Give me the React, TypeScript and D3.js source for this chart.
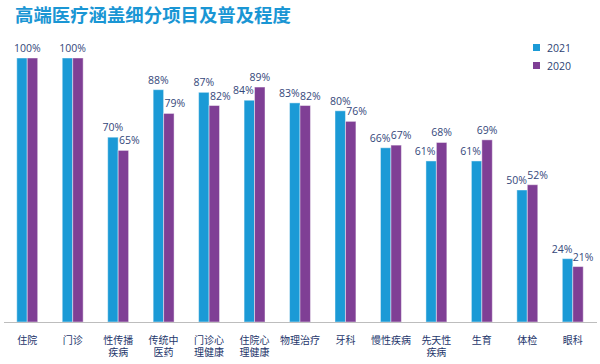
import React from 'react';
import * as d3 from 'd3';

const categories = ['住院', '门诊', '性传播疾病', '传统中医药', '门诊心理健康', '住院心理健康', '物理治疗', '牙科', '慢性疾病', '先天性疾病', '生育', '体检', '眼科'];
const categoryLines = [['住院'], ['门诊'], ['性传播', '疾病'], ['传统中', '医药'], ['门诊心', '理健康'], ['住院心', '理健康'], ['物理治疗'], ['牙科'], ['慢性疾病'], ['先天性', '疾病'], ['生育'], ['体检'], ['眼科']];
const values2021 = [100, 100, 70, 88, 87, 84, 83, 80, 66, 61, 61, 50, 24];
const values2020 = [100, 100, 65, 79, 82, 89, 82, 76, 67, 68, 69, 52, 21];
const seriesNames = ['2021', '2020'];
const colors = ['#1b9ad6', '#7f3f95'];

const W = 600;
const H = 364;
const baseY = 322;
const topY = 58;

const App: React.FC = () => {
  const x0 = d3.scaleBand<string>()
    .domain(categories)
    .range([4.5, 595.5])
    .paddingInner(0.54)
    .paddingOuter(0.27);

  const x1 = d3.scaleBand<string>()
    .domain(seriesNames)
    .range([0, x0.bandwidth()]);

  const y = d3.scaleLinear().domain([0, 100]).range([baseY, topY]);

  const numFont = '"Open Sans", "Noto Sans", sans-serif';
  const cjkFont = '"Noto Sans CJK SC", sans-serif';

  // push the value labels apart when the two bars are close in height
  const labelShift = (a: number, b: number): [number, number] => {
    if (a === b) return [0, 0];
    if (Math.abs(a - b) <= 3) return [-5.5, 5];
    if (Math.abs(a - b) < 10) return a < b ? [-6, 0] : [0, 6];
    return [0, 0];
  };

  return (
    <svg width={W} height={H} style={{ position: 'absolute', left: 0, top: 0, background: '#fff' }}>
      <text x={15} y={22} fill="#1a96d4" fontSize={18.4} fontWeight="bold" fontFamily={cjkFont}>
        高端医疗涵盖细分项目及普及程度
      </text>

      {/* legend */}
      {seriesNames.map((s, i) => (
        <g key={s} transform={`translate(533, ${44 + i * 18})`}>
          <rect width={7} height={7} fill={colors[i]} />
          <text x={14} y={7.5} fontSize={10.5} fill="#2e3f73" fontFamily={numFont}>{s}</text>
        </g>
      ))}

      {categories.map((c, i) => {
        const gx = x0(c)!;
        const cx = gx + x0.bandwidth() / 2;
        const vals = [values2021[i], values2020[i]];
        const shifts = labelShift(vals[0], vals[1]);
        return (
          <g key={c}>
            {vals.map((v, j) => (
              <rect
                key={j}
                x={gx + x1(seriesNames[j])!}
                y={y(v)}
                width={x1.bandwidth()}
                height={baseY - y(v)}
                fill={colors[j]}
                stroke="rgba(255,255,255,0.45)"
                strokeWidth={1}
              />
            ))}
            {vals[0] === vals[1] ? (
              <text x={cx} y={y(vals[0]) - 6} textAnchor="middle"
                fontSize={10.5} fill="#34477a" fontFamily={numFont}>{vals[0]}%</text>
            ) : vals.map((v, j) => (
              <text key={j} x={gx + x1(seriesNames[j])! + x1.bandwidth() / 2 + shifts[j]} y={y(v) - 6}
                textAnchor="middle" fontSize={10.5} fill="#34477a" fontFamily={numFont}>{v}%</text>
            ))}
            <text x={cx} y={344} textAnchor="middle" fontSize={10} fill="#24366b" fontFamily={cjkFont}>
              {categoryLines[i].map((line, k) => (
                <tspan key={k} x={cx} dy={k === 0 ? 0 : 12}>{line}</tspan>
              ))}
            </text>
          </g>
        );
      })}

      <line x1={4} x2={597} y1={baseY + 0.5} y2={baseY + 0.5} stroke="#bdbdbd" strokeWidth={1} />
    </svg>
  );
};

export default App;
